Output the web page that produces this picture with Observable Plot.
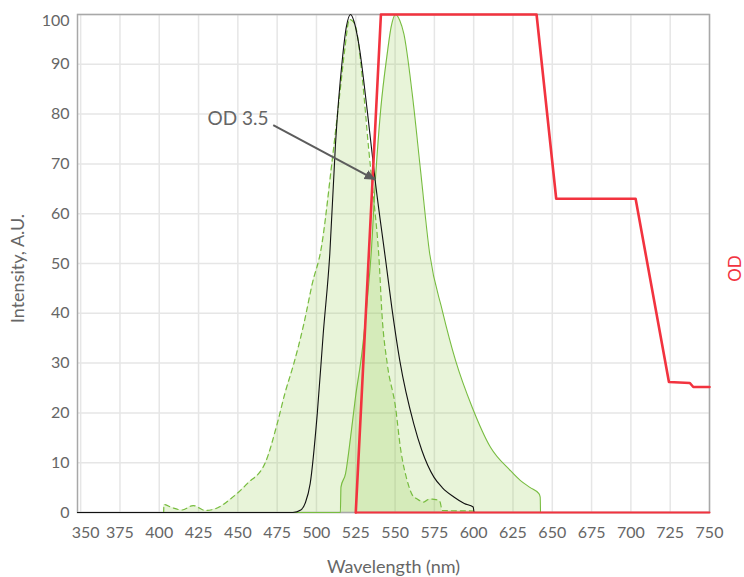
<!DOCTYPE html>
<html>
<head>
<meta charset="utf-8">
<script src="https://cdn.jsdelivr.net/npm/d3@7"></script>
<script src="https://cdn.jsdelivr.net/npm/@observablehq/plot@0.6"></script>
<style>
  html, body { margin: 0; padding: 0; background: #fff; }
  #chart { width: 744px; height: 577px; }
</style>
</head>
<body>
<div id="chart"></div>
<script>
// ---- tick values ----
const wavelengthTicks = [350, 375, 400, 425, 450, 475, 500, 525, 550, 575, 600, 625, 650, 675, 700, 725, 750];
const intensityTicks = [0, 10, 20, 30, 40, 50, 60, 70, 80, 90, 100];

// ---- excitation (dashed green, filled) ----
const exWl  = [402.8, 403, 408, 414.6, 421.6, 429.4, 436.9, 445.3, 456, 467.6, 475, 480, 485.6, 492, 497.3, 503, 510, 515.3, 518, 521, 523.5, 525.5, 529.1, 533.3, 536.5, 539.7, 541.8, 545, 550.3, 553.5, 557.7, 561, 564.1, 568.3, 571, 573.6, 576, 578.5, 580, 600];
const exVal = [0, 1.6, 1.0, 0.5, 1.4, 0.4, 0.9, 2.7, 5.8, 10.1, 17.8, 24, 29.9, 37.9, 45.9, 53, 70.7, 85.4, 93, 99, 98.5, 96.8, 87.4, 72.7, 62.7, 51.3, 39.2, 29.9, 21.1, 12.8, 6.4, 3.5, 2.7, 2.1, 2.6, 2.7, 2.6, 2.2, 0.4, 0.3];

// ---- emission (solid green, filled) ----
const emWl  = [348, 515.2, 515.6, 518.5, 521.7, 524.8, 529.1, 532.3, 534.8, 537.6, 540.8, 545, 547.5, 550.3, 553, 555.6, 560.9, 566.2, 572, 580, 588.5, 599.1, 610.7, 623.4, 629.8, 636, 641.5, 642.3, 642.5];
const emVal = [0, 0, 5.1, 7.8, 15.1, 23.1, 32.5, 42.6, 52, 67.3, 80.7, 92.1, 97.5, 100, 98.8, 96.1, 84.1, 68.7, 52, 40.6, 30.5, 21.1, 13.1, 8.4, 6.4, 5, 3.8, 3.1, 0];

// ---- filter transmission (black line) ----
const filterWl  = [348, 485, 490, 493, 496, 500.5, 504.3, 508.5, 512.1, 516.4, 519, 521.7, 524, 526.9, 532.3, 537.6, 543.9, 548, 553, 561.9, 567, 574.7, 580, 587.4, 594, 599.7, 600.3, 750];
const filterVal = [0, 0, 0.5, 2, 5.8, 19.8, 35.9, 52, 74, 90.8, 97.5, 100, 98.5, 94.1, 80.7, 66, 50.9, 41, 30.5, 17.8, 12.5, 7.1, 5, 3.1, 1.8, 1.1, 0, 0];

// ---- OD (red line) ----
const odWl  = [525, 541, 640, 652.5, 703, 724.2, 737.5, 739.7, 750];
const odVal = [0, 100, 100, 63, 63, 26.2, 26, 25.2, 25.2];
const odBaseWl  = [525, 750];
const odBaseVal = [0, 0];

// ---- annotation ----
const noteText = ["OD 3.5"];
const noteX = [469.5];
const noteY = [79.1];
const arrowFrom = [472.5, 77.8];
const arrowTo = [537.6, 66.8];

const zip = (xs, ys) => xs.map((x, i) => ({x, y: ys[i]}));
const ex = zip(exWl, exVal);
const em = zip(emWl, emVal);
const filt = zip(filterWl, filterVal);
const od = zip(odWl, odVal);
const odBase = zip(odBaseWl, odBaseVal);
const notes = noteText.map((t, i) => ({t, x: noteX[i], y: noteY[i]}));
const arrows = [{x1: arrowFrom[0], y1: arrowFrom[1], x2: arrowTo[0], y2: arrowTo[1]}];

const greenFill = "#8cc63f";
const greenLine = "#77bc3f";
const red = "#f2333f";
const smooth = "monotone-x";

function triangle(color) {
  const m = d3.create("svg:marker")
    .attr("viewBox", "-10 -5 10 10")
    .attr("markerWidth", 5.5)
    .attr("markerHeight", 5.5)
    .attr("orient", "auto")
    .attr("fill", color)
    .attr("stroke", "none");
  m.append("path").attr("d", "M-10,-4.5L0,0L-10,4.5Z");
  return m.node();
}

const chart = Plot.plot({
  width: 744,
  height: 577,
  marginLeft: 77,
  marginRight: 35,
  marginTop: 14,
  marginBottom: 65,
  style: {fontFamily: "Lato, 'Open Sans', sans-serif", fontSize: "16px", color: "#666", background: "#fff", overflow: "visible"},
  x: {domain: [348, 750]},
  y: {domain: [0, 100]},
  marks: [
    Plot.gridX(wavelengthTicks, {stroke: "#e6e6e6", strokeOpacity: 1, strokeWidth: 1.5}),
    Plot.gridY(intensityTicks, {stroke: "#e6e6e6", strokeOpacity: 1, strokeWidth: 1.5}),
    Plot.areaY(ex, {x: "x", y: "y", fill: greenFill, fillOpacity: 0.2, curve: smooth}),
    Plot.areaY(em, {x: "x", y: "y", fill: greenFill, fillOpacity: 0.2, curve: smooth}),
    Plot.frame({stroke: "#a8a8a8", strokeWidth: 1.5}),
    Plot.lineY(ex, {x: "x", y: "y", stroke: greenLine, strokeWidth: 1.2, strokeDasharray: "5,4", curve: smooth}),
    Plot.lineY(em, {x: "x", y: "y", stroke: greenLine, strokeWidth: 1.1, curve: smooth}),
    Plot.lineY(filt, {x: "x", y: "y", stroke: "#111", strokeWidth: 1.1, curve: smooth}),
    Plot.lineY(odBase, {x: "x", y: "y", stroke: red, strokeWidth: 2}),
    Plot.lineY(od, {x: "x", y: "y", stroke: red, strokeWidth: 2.6}),
    Plot.link(arrows, {x1: "x1", y1: "y1", x2: "x2", y2: "y2", stroke: "#5c5c5c", strokeWidth: 2, markerEnd: triangle}),
    Plot.text(notes, {x: "x", y: "y", text: "t", textAnchor: "end", fontSize: 19, fill: "#666"}),
    Plot.axisX(wavelengthTicks.filter(t => t !== 350), {tickSize: 0, tickPadding: 14, label: null, fill: "#666"}),
    Plot.axisX([350], {tickSize: 0, tickPadding: 14, label: null, fill: "#666", dx: 5}),
    Plot.axisY(intensityTicks.filter(t => t !== 100), {tickSize: 0, tickPadding: 8, label: null, fill: "#666"}),
    Plot.axisY([100], {tickSize: 0, tickPadding: 8, label: null, fill: "#666", dy: 6}),
    Plot.text(["Wavelength (nm)"], {frameAnchor: "bottom", textAnchor: "middle", lineAnchor: "middle", dy: 55, fontSize: 18, fill: "#666"}),
    Plot.text(["Intensity, A.U."], {frameAnchor: "left", textAnchor: "middle", lineAnchor: "middle", dx: -59, dy: 5, rotate: -90, fontSize: 18, fill: "#666"}),
    Plot.text(["OD"], {frameAnchor: "right", textAnchor: "middle", lineAnchor: "middle", dx: 26, dy: 5, rotate: -90, fontSize: 17, fill: red})
  ]
});
document.getElementById("chart").appendChild(chart);
</script>
</body>
</html>
